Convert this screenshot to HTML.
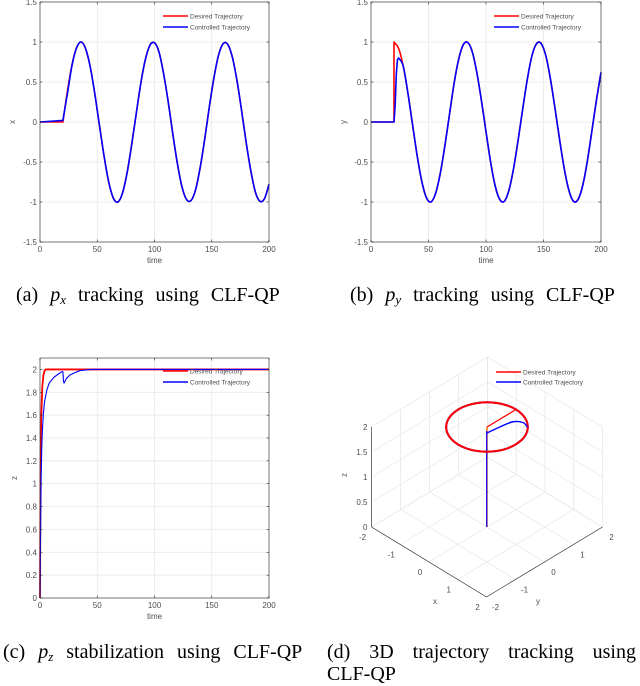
<!DOCTYPE html>
<html><head><meta charset="utf-8">
<style>
html,body{margin:0;padding:0;background:#fff;}
body{width:640px;height:686px;position:relative;overflow:hidden;}
svg{position:absolute;left:0;top:0;}
.cap{position:absolute;font-family:"Liberation Serif",serif;font-size:20px;color:#000;white-space:nowrap;word-spacing:7px;}
.cap i{font-style:italic;}
.cap sub{font-size:13px;font-style:italic;vertical-align:-3px;}
</style></head>
<body>
<svg id="fig" width="640" height="686" viewBox="0 0 640 686"></svg>
<div class="cap" style="left:16px;top:284px">(a) <i>p</i><sub>x</sub> tracking using CLF-QP</div>
<div class="cap" style="left:350px;top:284px">(b) <i>p</i><sub>y</sub> tracking using CLF-QP</div>
<div class="cap" style="left:3px;top:641px;word-spacing:8px">(c) <i>p</i><sub>z</sub> stabilization using CLF-QP</div>
<div class="cap" style="left:327px;top:641px;width:309px;text-align:justify;text-align-last:justify;white-space:normal;word-spacing:0">(d) 3D trajectory tracking using</div>
<div class="cap" style="left:327px;top:663px">CLF-QP</div>
<script>
// ---- data ----
const tSine = [0,20,24,28,32,36,40,44,48,52,56,60,64,68,72,76,80,84,88,92,96,100,104,108,112,116,120,124,128,132,136,140,144,148,152,156,160,164,168,172,176,180,184,188,192,196,200];
const xDesired = [0,0,.39,.72,.93,1.0,.91,.68,.34,-.05,-.43,-.75,-.95,-1.0,-.89,-.64,-.29,.10,.48,.78,.96,.99,.87,.60,.25,-.15,-.52,-.81,-.97,-.98,-.84,-.56,-.20,.20,.56,.84,.98,.97,.81,.52,.15,-.25,-.60,-.87,-.99,-.96,-.78];
const xControlled = [0,0.02,.36,.71,.93,1.0,.91,.68,.34,-.05,-.43,-.75,-.95,-1.0,-.89,-.64,-.29,.10,.48,.78,.96,.99,.87,.60,.25,-.15,-.52,-.81,-.97,-.98,-.84,-.56,-.20,.20,.56,.84,.98,.97,.81,.52,.15,-.25,-.60,-.87,-.99,-.96,-.78];
const tYd = [0,20,20,24,28,32,36,40,44,48,52,56,60,64,68,72,76,80,84,88,92,96,100,104,108,112,116,120,124,128,132,136,140,144,148,152,156,160,164,168,172,176,180,184,188,192,196,200];
const yDesired = [0,0,1.0,.92,.70,.37,-.02,-.41,-.73,-.94,-1.0,-.90,-.66,-.32,.07,.46,.77,.96,.995,.88,.62,.27,-.12,-.50,-.80,-.97,-.99,-.85,-.58,-.22,.17,.54,.83,.98,.98,.83,.54,.17,-.22,-.58,-.85,-.99,-.97,-.80,-.50,-.12,.27,.62];
const tYc = [0,20,21,22,23,24,28,32,36,40,44,48,52,56,60,64,68,72,76,80,84,88,92,96,100,104,108,112,116,120,124,128,132,136,140,144,148,152,156,160,164,168,172,176,180,184,188,192,196,200];
const yControlled = [0,0,0.2,0.6,0.78,.80,.70,.37,-.02,-.41,-.73,-.94,-1.0,-.90,-.66,-.32,.07,.46,.77,.96,.995,.88,.62,.27,-.12,-.50,-.80,-.97,-.99,-.85,-.58,-.22,.17,.54,.83,.98,.98,.83,.54,.17,-.22,-.58,-.85,-.99,-.97,-.80,-.50,-.12,.27,.62];
const tZd = [0,0.5,1,2,3,4,5,8,200];
const zDesired = [0,1.1,1.55,1.85,1.95,1.99,2,2,2];
const tZc = [0,0.5,1,1.5,2,3,4,6,8,12,16,19,20,20.5,21,23,26,30,35,45,200];
const zControlled = [0,0.6,1.05,1.3,1.45,1.62,1.72,1.82,1.88,1.93,1.96,1.98,1.98,1.9,1.88,1.92,1.95,1.97,1.99,2,2];
const ticksT = [0,50,100,150,200];
const ticksXY = [-1.5,-1,-0.5,0,0.5,1,1.5];
const tickLabelsXY = ['-1.5','-1','-0.5','0','0.5','1','1.5'];
const ticksZ = [0,0.2,0.4,0.6,0.8,1,1.2,1.4,1.6,1.8,2];
const tickLabelsZ = ['0','0.2','0.4','0.6','0.8','1','1.2','1.4','1.6','1.8','2'];
const legendLabels = ['Desired Trajectory','Controlled Trajectory'];
const seriesColors = ['#ff0000','#0000ff'];
// 3D data
const grid3 = [-2,-1,0,1,2];
const gridZ3 = [0,0.5,1,1.5,2];
const zLabels3 = ['0','0.5','1','1.5','2'];
const circleAngles = [0,15,30,45,60,75,90,105,120,135,150,165,180,195,210,225,240,255,270,285,300,315,330,345,360];
const blueStartX = [0,0.15,0.3,0.5,0.7];
const blueStartY = [0,0.3,0.6,0.75,0.7];
const blueStartZ = [1.88,1.95,2,2,2];

const svg = document.getElementById('fig');
const NS = 'http://www.w3.org/2000/svg';
function mk(tag, attrs, name, parent){
  const el = document.createElementNS(NS, tag);
  for (const k in attrs) el.setAttribute(k, attrs[k]);
  
  
  (parent||svg).appendChild(el);
  return el;
}
function txt(x,y,s,name,anchor,size,extra){
  const el = mk('text', Object.assign({x:x,y:y,'font-family':'Liberation Sans, sans-serif','font-size':size||8,fill:'#4d4d4d','text-anchor':anchor||'middle'}, extra||{}), name);
  el.textContent = s;
  return el;
}
function smoothSeg(pts){
  let d = '';
  for (let i=0;i<pts.length-1;i++){
    const p0=pts[Math.max(0,i-1)], p1=pts[i], p2=pts[i+1], p3=pts[Math.min(pts.length-1,i+2)];
    const c1=[p1[0]+(p2[0]-p0[0])/6, p1[1]+(p2[1]-p0[1])/6];
    const c2=[p2[0]-(p3[0]-p1[0])/6, p2[1]-(p3[1]-p1[1])/6];
    d += 'C'+c1[0].toFixed(2)+','+c1[1].toFixed(2)+' '+c2[0].toFixed(2)+','+c2[1].toFixed(2)+' '+p2[0].toFixed(2)+','+p2[1].toFixed(2);
  }
  return d;
}
function smooth(pts){ return 'M'+pts[0][0].toFixed(2)+','+pts[0][1].toFixed(2)+smoothSeg(pts); }
function smoothFrom(pts,k){
  let d = 'M'+pts.slice(0,k+1).map(p=>p[0].toFixed(2)+','+p[1].toFixed(2)).join('L');
  return d + smoothSeg(pts.slice(k));
}
function poly(pts){ return 'M'+pts.map(p=>p[0].toFixed(2)+','+p[1].toFixed(2)).join('L'); }

function plot2d(o){
  const L=o.left,R=o.right,T=o.top,B=o.bottom;
  const sx = v => L + (v-o.xmin)/(o.xmax-o.xmin)*(R-L);
  const sy = v => B - (v-o.ymin)/(o.ymax-o.ymin)*(B-T);
  mk('rect',{x:L,y:T,width:R-L,height:B-T,fill:'#fff'},o.id+'-plot-area');
  ticksT.forEach(t=>{ mk('line',{x1:sx(t),x2:sx(t),y1:T,y2:B,stroke:'#e6e6e6','stroke-width':0.7},o.id+'-x-grid'); });
  o.yt.forEach(v=>{ mk('line',{x1:L,x2:R,y1:sy(v),y2:sy(v),stroke:'#e6e6e6','stroke-width':0.7},o.id+'-y-grid'); });
  o.series.forEach((s,i)=>{
    const pts = s.t.map((t,j)=>[sx(t),sy(s.v[j])]);
    const d = (s.k!==undefined) ? smoothFrom(pts,s.k) : poly(pts);
    mk('path',{d:d,fill:'none',stroke:seriesColors[s.c],'stroke-width':s.w||1.6,'stroke-linejoin':'round'},o.id+'-'+s.name);
  });
  mk('rect',{x:L,y:T,width:R-L,height:B-T,fill:'none',stroke:'#262626','stroke-width':0.6},o.id+'-axes-box');
  ticksT.forEach(t=>{
    mk('line',{x1:sx(t),x2:sx(t),y1:B,y2:B-2.5,stroke:'#262626','stroke-width':0.6},o.id+'-x-tick');
    mk('line',{x1:sx(t),x2:sx(t),y1:T,y2:T+2.5,stroke:'#262626','stroke-width':0.6},o.id+'-x-tick-top');
    txt(sx(t),B+10,String(t),o.id+'-x-tick-label');
  });
  o.yt.forEach((v,i)=>{
    mk('line',{x1:L,x2:L+2.5,y1:sy(v),y2:sy(v),stroke:'#262626','stroke-width':0.6},o.id+'-y-tick');
    mk('line',{x1:R,x2:R-2.5,y1:sy(v),y2:sy(v),stroke:'#262626','stroke-width':0.6},o.id+'-y-tick-right');
    txt(L-3,sy(v)+3,o.yl[i],o.id+'-y-tick-label','end');
  });
  txt((L+R)/2,B+21,'time',o.id+'-x-axis-title');
  txt(o.ylx,(T+B)/2,o.ylab,o.id+'-y-axis-title','middle',8,{transform:'rotate(-90 '+o.ylx+' '+((T+B)/2)+')'});
  legendLabels.forEach((lab,i)=>{
    const ly = o.legY + i*11;
    mk('line',{x1:o.legX,x2:o.legX+25,y1:ly,y2:ly,stroke:seriesColors[i],'stroke-width':1.4},o.id+'-legend-line-'+i);
    txt(o.legX+27,ly+2.5,lab,o.id+'-legend-entry-'+i,'start',6.5);
  });
}
plot2d({id:'px',left:40,right:269,top:2,bottom:242,xmin:0,xmax:200,ymin:-1.5,ymax:1.5,yt:ticksXY,yl:tickLabelsXY,ylab:'x',ylx:15,legX:163,legY:16,
  series:[{name:'desired-x',t:tSine,v:xDesired,c:0,k:1},{name:'controlled-x',t:tSine,v:xControlled,c:1,k:1}]});
plot2d({id:'py',left:371,right:601,top:2,bottom:242,xmin:0,xmax:200,ymin:-1.5,ymax:1.5,yt:ticksXY,yl:tickLabelsXY,ylab:'y',ylx:346,legX:494,legY:16,
  series:[{name:'desired-y',t:tYd,v:yDesired,c:0,k:2},{name:'controlled-y',t:tYc,v:yControlled,c:1,k:5}]});
plot2d({id:'pz',left:40,right:269,top:358,bottom:598,xmin:0,xmax:200,ymin:0,ymax:2.1,yt:ticksZ,yl:tickLabelsZ,ylab:'z',ylx:17,legX:163,legY:371,
  series:[{name:'desired-z',t:tZd,v:zDesired,c:0,w:1.8},{name:'controlled-z',t:tZc,v:zControlled,c:1,w:1.1}]});

// ---- 3D plot ----
const P = (x,y,z) => [487 + 28.75*x + 29*y, 527 + 17.5*x - 17.5*y - 50*z];
function ln3(a,b,st,w,name){ const p=P(...a), q=P(...b); mk('line',{x1:p[0],y1:p[1],x2:q[0],y2:q[1],stroke:st,'stroke-width':w},name); }
grid3.forEach(g=>{
  ln3([g,-2,0],[g,2,0],'#e6e6e6',0.7,'floor-grid-x');
  ln3([-2,g,0],[2,g,0],'#e6e6e6',0.7,'floor-grid-y');
  ln3([-2,g,0],[-2,g,2],'#e6e6e6',0.7,'wall-x-grid-vertical');
  ln3([g,2,0],[g,2,2],'#e6e6e6',0.7,'wall-y-grid-vertical');
});
gridZ3.forEach(z=>{
  ln3([-2,-2,z],[-2,2,z],'#e6e6e6',0.7,'wall-x-grid-z');
  ln3([-2,2,z],[2,2,z],'#e6e6e6',0.7,'wall-y-grid-z');
});
ln3([-2,-2,0],[2,-2,0],'#262626',0.6,'x-axis-3d');
ln3([2,-2,0],[2,2,0],'#262626',0.6,'y-axis-3d');
ln3([-2,-2,0],[-2,-2,2],'#262626',0.6,'z-axis-3d');
grid3.forEach(g=>{
  const a=P(g,-2,0); txt(a[0]-9,a[1]+13,String(g),'x-tick-label-3d');
  const b=P(2,g,0); txt(b[0]+9,b[1]+13,String(g),'y-tick-label-3d');
});
gridZ3.forEach((z,i)=>{ const a=P(-2,-2,z); txt(a[0]-4,a[1]+3,zLabels3[i],'z-tick-label-3d','end'); });
txt(435,604,'x','x-axis-title-3d');
txt(538,604,'y','y-axis-title-3d');
txt(347,475,'z','z-axis-title-3d','middle',8,{transform:'rotate(-90 347 475)'});
const vz0=P(0,0,0), vz1=P(0,0,2);
mk('line',{x1:vz0[0],y1:vz0[1],x2:vz1[0],y2:vz1[1],stroke:'#ff6600','stroke-width':1.4},'desired-vertical-3d');
mk('line',{x1:vz0[0]-0.3,y1:vz0[1],x2:vz1[0]-0.3,y2:vz1[1]+4,stroke:'#0000ff','stroke-width':1.2},'controlled-vertical-3d');
const bluePts = blueStartX.map((x,i)=>P(x,blueStartY[i],blueStartZ[i]));
const circPts = circleAngles.map(a=>P(Math.cos(a*Math.PI/180),Math.sin(a*Math.PI/180),2));
mk('path',{d:smooth(circPts),fill:'none',stroke:'#0000ff','stroke-width':2},'controlled-circle-3d');
mk('path',{d:smooth(circPts),fill:'none',stroke:'#ff0000','stroke-width':2},'desired-circle-3d');
const c0=P(0,0,2), c1=P(0,1,2);
mk('line',{x1:c0[0],y1:c0[1],x2:c1[0],y2:c1[1],stroke:'#ff0000','stroke-width':1.3},'desired-jump-3d');
mk('path',{d:smooth(bluePts),fill:'none',stroke:'#0000ff','stroke-width':1.4},'controlled-approach-3d');
legendLabels.forEach((lab,i)=>{
  const ly = 372 + i*10;
  mk('line',{x1:496,x2:521,y1:ly,y2:ly,stroke:seriesColors[i],'stroke-width':1.4},'legend-3d-line-'+i);
  txt(523,ly+2.5,lab,'legend-3d-entry-'+i,'start',6.5);
});
</script>
</body></html>
